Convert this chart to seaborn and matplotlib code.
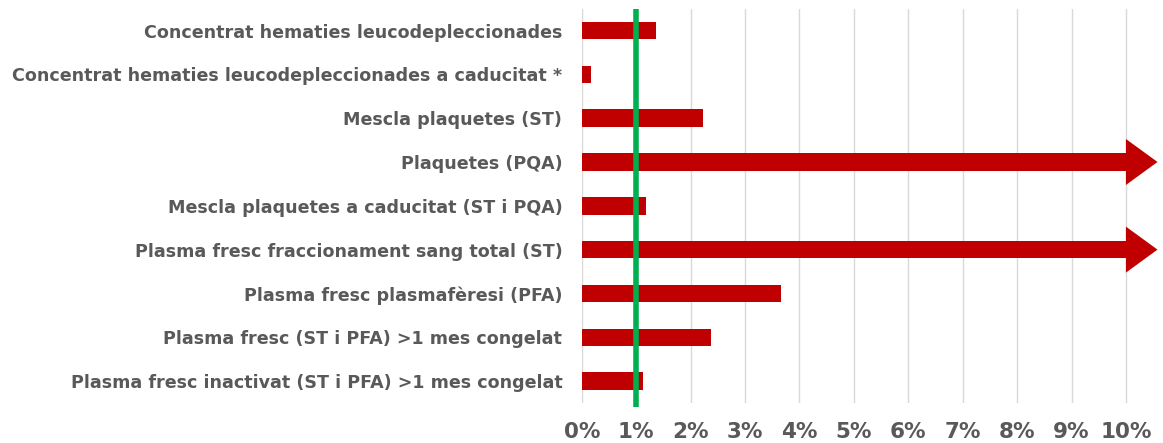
import numpy as np
import pandas as pd
import matplotlib
matplotlib.use("Agg")
import matplotlib.pyplot as plt
from matplotlib.patches import Polygon
import seaborn as sns

categories = [
    "Concentrat hematies leucodepleccionades",
    "Concentrat hematies leucodepleccionades a caducitat *",
    "Mescla plaquetes (ST)",
    "Plaquetes (PQA)",
    "Mescla plaquetes a caducitat (ST i PQA)",
    "Plasma fresc fraccionament sang total (ST)",
    "Plasma fresc plasmafèresi (PFA)",
    "Plasma fresc (ST i PFA) >1 mes congelat",
    "Plasma fresc inactivat (ST i PFA) >1 mes congelat",
]
# percentage values; 12.0 marks off-scale values (> 10%) drawn as arrows
values = [1.37, 0.17, 2.22, 12.0, 1.18, 12.0, 3.67, 2.37, 1.13]
tick_values = [0, 1, 2, 3, 4, 5, 6, 7, 8, 9, 10]
tick_labels = ["0%", "1%", "2%", "3%", "4%", "5%", "6%", "7%", "8%", "9%", "10%"]
reference_line = 1.0
axis_cap = 10.0

sns.set_theme(style="white")
plt.rcParams["font.family"] = ["DejaVu Sans"]

bar_color = "#C00000"
text_color = "#595959"
grid_color = "#D9D9D9"

df = pd.DataFrame({"cat": categories, "val": values})
df["shown"] = df["val"].clip(upper=axis_cap)

fig = plt.figure(figsize=(11.63, 4.43), dpi=100)
ax = fig.add_axes([581.7 / 1163, 1 - 403 / 443, (1157.5 - 581.7) / 1163, (403 - 8.6) / 443])

sns.barplot(data=df, y="cat", x="shown", orient="h", color=bar_color,
            saturation=1, width=0.4, linewidth=0, ax=ax, zorder=2)

# arrowheads for off-scale values
head_len = 0.58
head_half = 0.525
for i, v in enumerate(values):
    if v > axis_cap:
        tri = Polygon([[axis_cap, i - head_half], [axis_cap + head_len, i],
                       [axis_cap, i + head_half]], closed=True,
                      facecolor=bar_color, edgecolor="none", zorder=2, clip_on=False)
        ax.add_patch(tri)

ax.set_xlim(0, axis_cap + head_len)
ax.set_ylim(len(categories) - 0.5, -0.5)

for t in tick_values:
    ax.axvline(t, color=grid_color, lw=1.0, zorder=0)

ax.plot([reference_line, reference_line], [-0.5, len(categories) - 0.5 + 0.1],
        color="#00B050", lw=4.0, zorder=3, clip_on=False, solid_capstyle="butt")

ax.set_xticks(tick_values)
ax.set_xticklabels(tick_labels, fontsize=15.5, fontweight="bold", color=text_color)
ax.tick_params(axis="x", length=3, color=grid_color, pad=11, width=1)
ax.tick_params(axis="y", length=0, pad=14)
for lab in ax.get_yticklabels():
    lab.set_fontsize(12.65)
    lab.set_fontweight("bold")
    lab.set_color(text_color)
    lab.set_verticalalignment("center_baseline")

ax.set_xlabel("")
ax.set_ylabel("")
for s in ax.spines.values():
    s.set_visible(False)

fig.savefig("out.png", dpi=100)
